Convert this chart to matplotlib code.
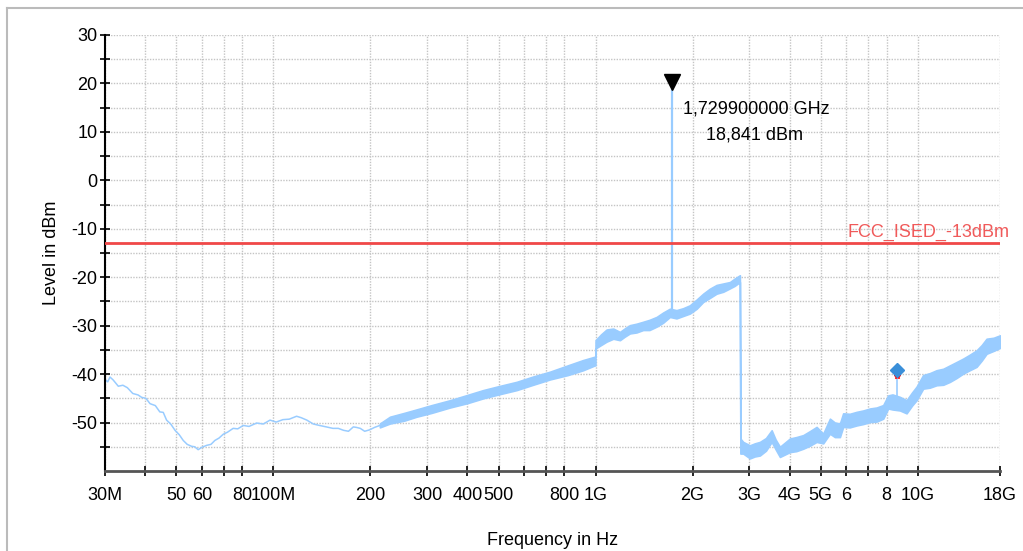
import numpy as np
import matplotlib
matplotlib.use("Agg")
import matplotlib.pyplot as plt
from matplotlib.lines import Line2D
import matplotlib.transforms as mtransforms

plt.rcParams['font.family'] = ['Liberation Sans', 'DejaVu Sans']
plt.rcParams['axes.unicode_minus'] = False

# low band trace (thin line), frequency in MHz, level in dBm
thin_freq = [30, 30.6, 31.1, 31.8, 33.0, 34.1, 35.2, 36.6, 38.0, 39.0, 40.2, 41.4,
             43.0, 44.4, 45.5, 46.6, 48.0, 49.5, 51.0, 52.5, 54.0, 55.7, 57.0,
             58.4, 60.0, 62.1, 64.0, 65.8, 67.8, 69.9, 72.0, 75.0, 77.5, 80.6, 84.0,
             88.7, 93.0, 97.6, 102, 107, 112, 118, 122, 127, 133, 139, 146, 153, 159,
             165, 171, 177, 181, 186, 192, 199, 206, 214]
thin_level = [-41.1, -41.6, -40.6, -41.2, -42.5, -42.3, -42.8, -44.0, -44.3, -44.8,
              -45.0, -46.1, -46.5, -47.8, -47.9, -49.5, -50.3, -51.6, -52.5, -53.7,
              -54.5, -54.9, -55.0, -55.6, -55.1, -54.7, -54.5, -53.7, -53.2, -52.4,
              -52.0, -51.2, -51.3, -50.6, -50.8, -50.1, -50.3, -49.5, -49.9, -49.4,
              -49.3, -48.7, -49.0, -49.5, -50.3, -50.6, -50.9, -51.2, -51.2, -51.6,
              -51.8, -50.9, -51.0, -51.2, -51.8, -51.5, -51.0, -50.6]

# upper band trace: lower and upper envelope of the noisy trace
band_freq = [214, 230, 255, 278, 310, 353, 400, 448, 500, 569, 640, 722, 820, 915, 995,
             999, 1000, 1040, 1082, 1135, 1190, 1230, 1278, 1340, 1405, 1470, 1547,
             1620, 1701, 1783, 1870, 1962, 2060, 2158, 2260, 2374, 2490, 2612, 2700,
             2805, 2815, 2872, 3013, 3120, 3236, 3380, 3520, 3620, 3734, 4010, 4200,
             4410, 4620, 4853, 5087, 5338, 5530, 5733, 5868, 6150, 6458, 6780, 7104,
             7450, 7813, 8095, 8350, 8802, 9232, 9600, 9915, 10395, 10900, 11442,
             12000, 12585, 13200, 13836, 14500, 15227, 15800, 16355, 17200, 18000]
band_lo = [-51.0, -50.2, -49.6, -48.8, -48.0, -46.9, -46.0, -45.0, -44.2, -43.3,
           -42.2, -41.1, -40.2, -39.2, -38.2, -38.2, -34.7, -34.0, -33.3, -32.7,
           -33.0, -32.3, -31.6, -31.4, -30.9, -30.9, -30.2, -29.4, -28.2, -28.5,
           -28.0, -27.5, -26.5, -25.1, -24.3, -23.4, -23.0, -22.3, -21.8, -21.0,
           -56.4, -56.4, -57.4, -57.0, -56.8, -55.8, -54.0, -55.5, -57.1, -56.1,
           -55.9, -55.4, -54.8, -54.0, -54.3, -52.3, -53.0, -53.0, -50.9, -51.0,
           -50.6, -50.3, -49.9, -49.8, -49.2, -47.1, -47.3, -47.5, -48.1, -46.5,
           -45.4, -43.0, -42.8, -42.3, -42.2, -41.6, -40.8, -39.9, -39.2, -38.5,
           -37.2, -35.8, -35.2, -34.6]
band_hi = [-50.2, -48.8, -48.0, -47.3, -46.4, -45.4, -44.3, -43.3, -42.5, -41.6,
           -40.5, -39.5, -38.2, -37.1, -36.4, -36.4, -33.0, -31.8, -30.8, -30.6,
           -31.3, -30.6, -29.9, -29.6, -29.2, -28.8, -28.2, -27.3, -26.5, -26.8,
           -26.4, -25.8, -24.6, -23.4, -22.4, -21.6, -21.3, -21.0, -20.3, -19.6,
           -53.3, -54.0, -54.7, -54.3, -54.0, -53.2, -51.6, -53.5, -55.0, -53.3,
           -53.0, -52.6, -51.8, -50.9, -52.3, -49.2, -50.0, -50.2, -48.1, -48.2,
           -47.8, -47.5, -47.1, -46.9, -46.4, -44.4, -44.2, -44.7, -45.4, -43.8,
           -42.6, -40.2, -39.8, -39.2, -38.9, -38.2, -37.5, -36.8, -36.0, -35.1,
           -34.0, -32.7, -32.5, -32.0]

# peak marker
peak_freq = 1729.9
peak_base = -27.5
peak_level = 18.841

# second marker (diamond)
mark2_freq = 8598
mark2_base = -45.0
mark2_level = -39.1
mark2_red = -40.3

limit_level = -13
limit_name = "FCC_ISED_-13dBm"

tick_pos = [30, 40, 50, 60, 70, 80, 100, 200, 300, 400, 500, 600, 700, 800, 1000,
            2000, 3000, 4000, 5000, 6000, 7000, 8000, 10000, 18000]
tick_lab = ['30M', '', '50', '60', '', '80', '100M', '200', '300', '400', '500', '', '',
            '800', '1G', '2G', '3G', '4G', '5G', '6', '', '8', '10G', '18G']

trace_col = '#99CCFF'
grid_col = '#C4C4C4'

fig = plt.figure(figsize=(10.23, 5.51), dpi=100)
ax = fig.add_axes([0.1026, 0.1452, 0.8749, 0.7913])

ax.set_xscale('log')
ax.set_xlim(30, 18000)
ax.set_ylim(-60, 30)

# grid
for t in tick_pos:
    ax.axvline(t, color=grid_col, lw=1, ls=(0, (1, 1)), zorder=0)
for v in range(-55, 31, 5):
    ax.axhline(v, color=grid_col, lw=1, ls=(0, (1, 1)), zorder=0)

# trace
ax.plot(thin_freq, thin_level, color=trace_col, lw=1.1, zorder=2)
ax.fill_between(band_freq, band_lo, band_hi, color=trace_col, lw=1.2,
                edgecolor=trace_col, zorder=2)
ax.vlines(peak_freq, peak_base, peak_level, color=trace_col, lw=1.6, zorder=2)
ax.vlines(mark2_freq, mark2_base, mark2_level, color=trace_col, lw=1.2, zorder=2)

# limit line
ax.axhline(limit_level, color='#F04848', lw=2, zorder=3)
ax.annotate(limit_name, xy=(1, limit_level), xycoords=('axes fraction', 'data'),
            xytext=(7, 1.5), textcoords='offset points', ha='right', va='bottom',
            color='#F05A5A', fontsize=13, annotation_clip=False)

# markers
tri_tr = mtransforms.offset_copy(ax.transData, fig=fig, x=0, y=5, units='points')
ax.plot(peak_freq, peak_level, marker='v', color='black', markersize=11,
        transform=tri_tr, clip_on=False, zorder=5)
ax.annotate("1,729900000 GHz", xy=(peak_freq, peak_level), xytext=(8, -8),
            textcoords='offset points', ha='left', va='top', fontsize=13)
ax.annotate("18,841 dBm", xy=(peak_freq, peak_level), xytext=(59, -27),
            textcoords='offset points', ha='center', va='top', fontsize=13)

ax.plot(mark2_freq, mark2_level, marker='D', color='#3A8FD9', markersize=7, zorder=5)
ax.plot(mark2_freq, mark2_red, marker='*', color='red', markersize=4, zorder=4)

# axes styling
ax.set_xticks(tick_pos)
ax.set_xticklabels(tick_lab)
ax.xaxis.set_minor_locator(matplotlib.ticker.NullLocator())
ax.set_yticks(range(-50, 31, 10))
ax.set_yticks(range(-55, 31, 10), minor=True)
ax.tick_params(axis='both', which='both', direction='inout', length=7, width=1.2,
               labelsize=13, color='black')
ax.tick_params(axis='x', pad=8)
ax.tick_params(axis='y', pad=2)

for s in ['top', 'right']:
    ax.spines[s].set_visible(False)
ax.spines['left'].set_linewidth(1.5)
ax.spines['left'].set_color('black')
ax.spines['bottom'].set_linewidth(2)
ax.spines['bottom'].set_color('#555555')

ax.set_ylabel('Level in dBm', fontsize=13, labelpad=8)
ax.set_xlabel('Frequency in Hz', fontsize=13, labelpad=20)

# outer frame
fig.add_artist(Line2D([0.007, 1.0], [0.985, 0.985], transform=fig.transFigure,
                      color='#BBBBBB', lw=1.5))
fig.add_artist(Line2D([0.007, 0.007], [0.0, 0.985], transform=fig.transFigure,
                      color='#BBBBBB', lw=1.5))

fig.savefig('out.png', dpi=100)
